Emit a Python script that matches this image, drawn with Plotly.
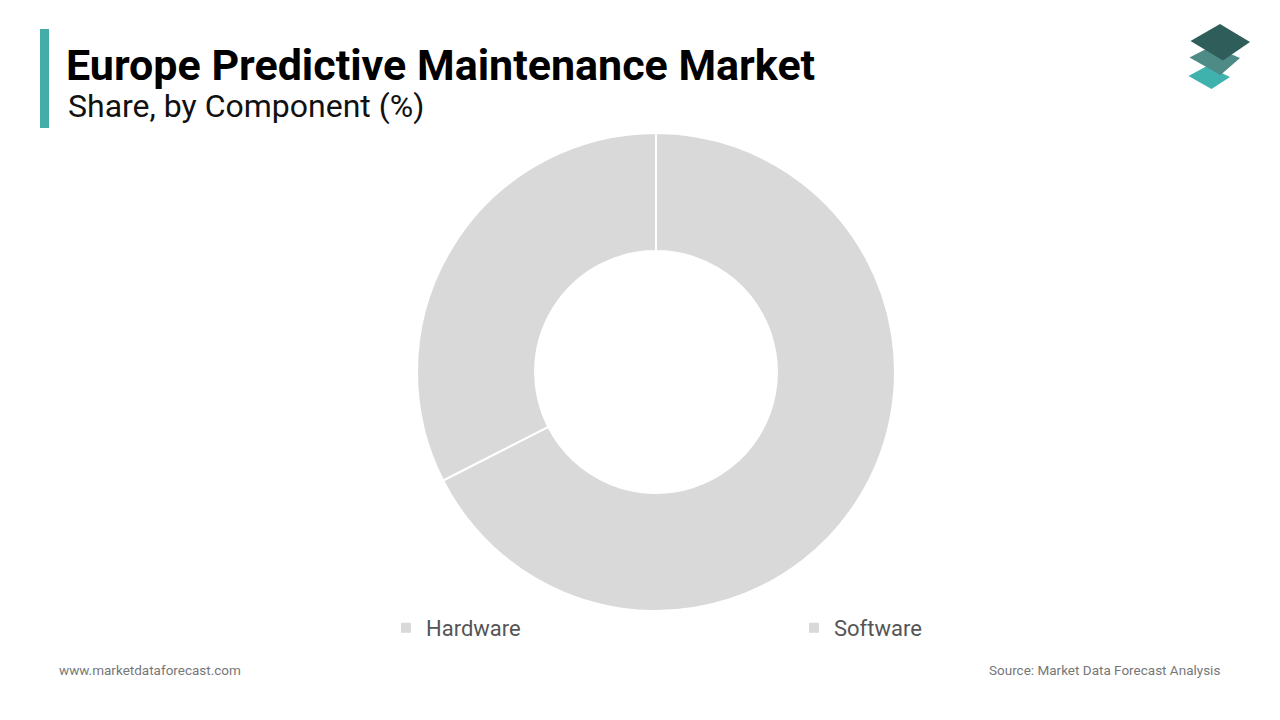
import plotly.graph_objects as go

# Data
components = ["Hardware", "Software"]
shares = [67.5, 32.5]
slice_colors = ["#d9d9d9", "#d9d9d9"]

title_text = "Europe Predictive Maintenance Market"
subtitle_text = "Share, by Component (%)"
footer_left = "www.marketdataforecast.com"
footer_right = "Source: Market Data Forecast Analysis"

W, H = 1280, 720

def px(x):
    return x / W

def py(y):
    return 1 - y / H

cx, cy, R = 656, 372, 239

fig = go.Figure()
fig.add_trace(go.Pie(
    labels=components,
    values=shares,
    hole=0.506,
    sort=False,
    direction="clockwise",
    rotation=0,
    textinfo="none",
    hoverinfo="label+percent",
    marker=dict(colors=slice_colors, line=dict(color="white", width=2)),
    domain=dict(x=[px(cx - R), px(cx + R)], y=[py(cy + R), py(cy - R)]),
))

shapes = []
# left accent bar
shapes.append(dict(type="rect", xref="paper", yref="paper",
                   x0=px(40), x1=px(49), y0=py(128), y1=py(29),
                   fillcolor="#45aca8", line=dict(width=0), layer="above"))

def rhombus(pts, color):
    path = "M " + " L ".join(f"{px(x)},{py(y)}" for x, y in pts) + " Z"
    return dict(type="path", xref="paper", yref="paper", path=path,
                fillcolor=color, line=dict(width=0), layer="above")

shapes.append(rhombus([(1188.5, 76), (1207, 66), (1230, 77), (1211.5, 89)], "#3fb2ae"))
shapes.append(rhombus([(1189.5, 57.5), (1212, 46), (1240, 58), (1220.5, 75)], "#4e8a86"))
shapes.append(rhombus([(1190.5, 41), (1220, 24), (1250, 42), (1223, 60.5)], "#2f5e5a"))

annotations = [
    dict(text=f"<b>{title_text}</b>", x=px(64), y=py(65), xref="paper", yref="paper",
         xanchor="left", yanchor="middle", showarrow=False,
         font=dict(family="Roboto", size=43, color="#000000")),
    dict(text=subtitle_text, x=px(66), y=py(106), xref="paper", yref="paper",
         xanchor="left", yanchor="middle", showarrow=False,
         font=dict(family="Roboto", size=32, color="#111111")),
    dict(text=footer_left, x=px(57), y=py(670), xref="paper", yref="paper",
         xanchor="left", yanchor="middle", showarrow=False,
         font=dict(family="Roboto", size=13.5, color="#777777")),
    dict(text=footer_right, x=px(1222), y=py(670), xref="paper", yref="paper",
         xanchor="right", yanchor="middle", showarrow=False,
         font=dict(family="Roboto", size=13.5, color="#777777")),
]

fig.update_layout(
    width=W, height=H,
    margin=dict(l=0, r=0, t=0, b=0),
    paper_bgcolor="white", plot_bgcolor="white",
    showlegend=True,
    legend=dict(orientation="h", x=px(386), y=py(628), xanchor="left", yanchor="middle",
                entrywidth=363, font=dict(family="Roboto", size=22, color="#555555"),
                bgcolor="rgba(0,0,0,0)"),
    shapes=shapes,
    annotations=annotations,
)

fig.write_html("out.html")
